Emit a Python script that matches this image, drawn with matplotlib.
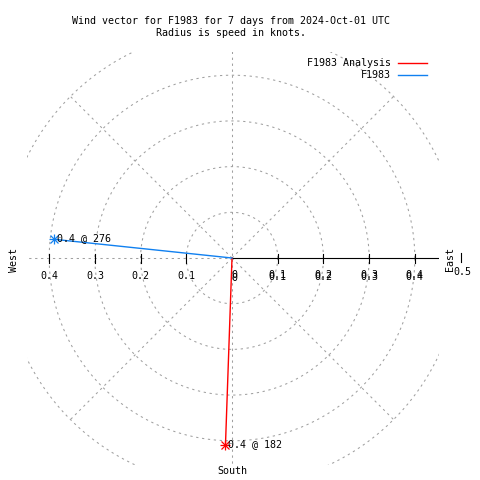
import numpy as np
import matplotlib
matplotlib.use("Agg")
import matplotlib.pyplot as plt
from matplotlib.lines import Line2D

# wind vectors: speed (knots) and direction (deg, compass)
series_names = ["F1983 Analysis", "F1983"]
speeds = [0.41, 0.392]
directions = [182, 276]
series_colors = ["#ff0000", "#1080f0"]

rings = [0.1, 0.2, 0.3, 0.4, 0.5]
spokes = [45, 135, 225, 315]
tick_vals = [0.1, 0.2, 0.3, 0.4]

title = "Wind vector for F1983 for 7 days from 2024-Oct-01 UTC\nRadius is speed in knots."

FONT = "DejaVu Sans Mono"
FS = 7.2
GRID = "#a0a0a0"
DASH = (0, (2.2, 3.5))

fig = plt.figure(figsize=(4.8, 4.8), dpi=100)
# plot box in pixels: x 27..439, y 52..465, centre at (232, 258), 457 px per knot
px = 457.0
ax = fig.add_axes([27 / 480, 15 / 480, 412 / 480, 413 / 480])
ax.set_xlim((27 - 232) / px, (439 - 232) / px)
ax.set_ylim(-(465 - 258) / px, (258 - 52) / px)
ax.axis("off")

# grid rings and spokes
t = np.linspace(0, 2 * np.pi, 400)
for r in rings:
    ax.plot(r * np.cos(t), r * np.sin(t), color=GRID, lw=0.75, ls=DASH)
for a in spokes:
    ang = np.radians(a)
    ax.plot([0, 0.5 * np.cos(ang)], [0, 0.5 * np.sin(ang)], color=GRID, lw=0.75, ls=DASH)
ax.plot([-1, 0], [0, 0], color=GRID, lw=0.75, ls=DASH)
ax.plot([0, 0], [-1, 1], color=GRID, lw=0.75, ls=DASH)
ax.plot([0, 1], [0, 0], color="black", lw=0.8)

# ticks and tick labels (right side labels are printed twice, slightly offset)
tick_h = 4.5 / px
lab_y = -18 / px
shift = 3 / px
for v in tick_vals:
    ax.plot([-v, -v], [-tick_h, tick_h], color="black", lw=0.8)
    ax.plot([v, v], [-tick_h, tick_h], color="black", lw=0.8)
    ax.text(-v, lab_y, f"{v:.1f}", ha="center", va="center", family=FONT, fontsize=FS)
    for dy in (0, -shift):
        ax.text(v, lab_y + shift / 2 + dy, f"{v:.1f}", ha="center", va="center",
                family=FONT, fontsize=FS)
for dy in (0, -shift):
    ax.text(2 / px, lab_y + 1 / px + dy, "0", ha="center", va="center", family=FONT, fontsize=FS)
ax.plot([0.5, 0.5], [-tick_h + 1 / px, tick_h + 1 / px], color="black", lw=0.8, clip_on=False)
ax.text(0.5 + 2 / px, -14 / px, "0.5", ha="center", va="center", family=FONT, fontsize=FS)

# compass labels
ax.text(218 / px, -1 / px, "East", rotation=90, ha="center", va="center", family=FONT, fontsize=FS)
ax.text(-218 / px, -2 / px, "West", rotation=90, ha="center", va="center", family=FONT, fontsize=FS)
ax.text(0, -213 / px, "South", ha="center", va="center", family=FONT, fontsize=FS)

# wind vectors
for name, s, d, c in zip(series_names, speeds, directions, series_colors):
    b = np.radians(d)
    x, y = s * np.sin(b), s * np.cos(b)
    ax.plot([0, x], [0, y], color=c, lw=1.0)
    ax.plot([x], [y], marker="+", color=c, ms=7, mew=0.9, ls="none")
    ax.plot([x], [y], marker="x", color=c, ms=5.5, mew=0.9, ls="none")
    ax.text(x + 3 / px, y + 1 / px, f"{s:.1f} @ {d}", ha="left", va="center",
            family=FONT, fontsize=FS)

# legend (text on the left, sample line on the right)
handles = [Line2D([], [], color=c, lw=1.0) for c in series_colors]
fig.legend(handles, series_names, loc="upper right", markerfirst=False, frameon=False,
           bbox_to_anchor=(427 / 480, 1 - 58 / 480), borderpad=0, borderaxespad=0,
           handlelength=2.9, handletextpad=0.7, labelspacing=0.25,
           prop={"family": FONT, "size": FS})

fig.text(231 / 480, 1 - 27 / 480, title, ha="center", va="center", family=FONT,
         fontsize=FS, linespacing=1.3)

fig.savefig("out.png", dpi=100)
